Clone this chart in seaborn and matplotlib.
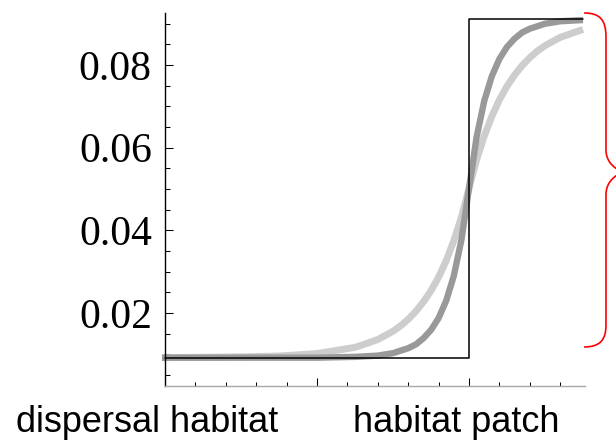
import matplotlib
matplotlib.use("Agg")
import matplotlib.pyplot as plt
from matplotlib.path import Path
from matplotlib.patches import PathPatch
from matplotlib.ticker import MultipleLocator, NullFormatter, FixedLocator
import seaborn as sns
import pandas as pd

# ---- data ----
x_step = [0.0, 2.0, 2.0, 2.75]
y_step = [0.0092, 0.0092, 0.0911, 0.0911]

x_light = [-0.02, 0.5, 0.75, 1.0, 1.25, 1.3, 1.4, 1.5, 1.55, 1.6, 1.65, 1.7, 1.75,
           1.8, 1.85, 1.9, 1.95, 2.0, 2.05, 2.1, 2.15, 2.2, 2.25, 2.3, 2.35, 2.4,
           2.45, 2.5, 2.6, 2.7, 2.75]
y_light = [0.0092, 0.0094, 0.0096, 0.0102, 0.0117, 0.0123, 0.0136, 0.0156, 0.0169,
           0.0185, 0.0204, 0.0227, 0.0254, 0.0287, 0.0327, 0.0375, 0.0432, 0.0502,
           0.0571, 0.0628, 0.0676, 0.0716, 0.0749, 0.0776, 0.0799, 0.0818, 0.0834,
           0.0847, 0.0867, 0.0880, 0.0886]

x_dark = [-0.02, 1.0, 1.25, 1.4, 1.5, 1.6, 1.65, 1.7, 1.75, 1.8, 1.85, 1.9, 1.95,
          2.0, 2.05, 2.1, 2.15, 2.2, 2.25, 2.3, 2.35, 2.4, 2.5, 2.6, 2.75]
y_dark = [0.0092, 0.0092, 0.0094, 0.0097, 0.0103, 0.0115, 0.0124, 0.0139, 0.0159,
          0.0188, 0.0230, 0.0290, 0.0377, 0.0502, 0.0626, 0.0713, 0.0773, 0.0815,
          0.0844, 0.0864, 0.0879, 0.0888, 0.0900, 0.0906, 0.0909]

y_ticks = [0.02, 0.04, 0.06, 0.08]
y_tick_labels = ["0.02", "0.04", "0.06", "0.08"]
x_labels = ["dispersal habitat", "habitat patch"]

sns.set_style("ticks")
plt.rcParams["font.family"] = ["Liberation Sans", "DejaVu Sans"]
plt.rcParams["text.color"] = "black"
plt.rcParams["xtick.color"] = "black"
plt.rcParams["ytick.color"] = "black"
plt.rcParams["xtick.labelcolor"] = "black"
plt.rcParams["ytick.labelcolor"] = "black"

fig = plt.figure(figsize=(6.16, 4.41), dpi=100)
W, H = 616, 441
ax = fig.add_axes([165 / W, (H - 386) / H, (585 - 165) / W, (386 - 13) / H])

df_light = pd.DataFrame({"x": x_light, "y": y_light})
df_dark = pd.DataFrame({"x": x_dark, "y": y_dark})
df_step = pd.DataFrame({"x": x_step, "y": y_step})

sns.lineplot(data=df_light, x="x", y="y", ax=ax, color="#cdcdcd", lw=5.0,
             sort=False, estimator=None, clip_on=False, solid_capstyle="butt",
             solid_joinstyle="round")
sns.lineplot(data=df_dark, x="x", y="y", ax=ax, color="#999999", lw=4.6,
             sort=False, estimator=None, clip_on=False, solid_capstyle="butt",
             solid_joinstyle="round")
sns.lineplot(data=df_step, x="x", y="y", ax=ax, color="black", lw=1.1,
             sort=False, estimator=None, clip_on=False)

ax.set_xlim(0, 2.763)
ax.set_ylim(0.00235, 0.0926)
ax.set_xlabel("")
ax.set_ylabel("")

for s in ["top", "right"]:
    ax.spines[s].set_visible(False)
ax.spines["left"].set_color("black")
ax.spines["left"].set_linewidth(1.0)
ax.spines["bottom"].set_color("#a8a8a8")
ax.spines["bottom"].set_linewidth(1.0)

ax.xaxis.set_major_locator(FixedLocator([0, 1, 2]))
ax.xaxis.set_minor_locator(MultipleLocator(0.2))
ax.xaxis.set_major_formatter(NullFormatter())
ax.yaxis.set_major_locator(FixedLocator(y_ticks))
ax.set_yticklabels(y_tick_labels)
ax.yaxis.set_minor_locator(MultipleLocator(0.005))

ax.tick_params(axis="x", which="major", direction="in", length=5.5, width=0.75, color="black")
ax.tick_params(axis="x", which="minor", direction="in", length=2.8, width=0.75, color="black")
ax.tick_params(axis="y", which="major", direction="in", length=6, width=0.75,
               color="black", pad=9.5, labelcolor="black")
ax.tick_params(axis="y", which="minor", direction="in", length=3.5, width=0.75, color="black")
for lab in ax.get_yticklabels():
    lab.set_fontfamily(["Liberation Serif", "DejaVu Serif"])
    lab.set_fontsize(30)
    lab.set_color("black")

# category labels under the axis
fig.text(147.5 / W, (H - 431.7) / H, x_labels[0], ha="center", va="baseline",
         fontsize=26, color="black", family=["Liberation Sans", "DejaVu Sans"])
fig.text(456 / W, (H - 431.7) / H, x_labels[1], ha="center", va="baseline",
         fontsize=26, color="black", family=["Liberation Sans", "DejaVu Sans"])

# red curly brace on the right (axes data coordinates)
verts = [(2.757, 0.0926), (2.862, 0.0926), (2.901, 0.0909), (2.901, 0.0868),
         (2.901, 0.0595),
         (2.901, 0.0570), (2.941, 0.0553), (3.008, 0.0541),
         (2.941, 0.0529), (2.901, 0.0512), (2.901, 0.0486),
         (2.901, 0.0171),
         (2.901, 0.0135), (2.862, 0.0118), (2.757, 0.0118)]
codes = [Path.MOVETO, Path.CURVE4, Path.CURVE4, Path.CURVE4,
         Path.LINETO,
         Path.CURVE4, Path.CURVE4, Path.CURVE4,
         Path.CURVE4, Path.CURVE4, Path.CURVE4,
         Path.LINETO,
         Path.CURVE4, Path.CURVE4, Path.CURVE4]
brace = PathPatch(Path(verts, codes), facecolor="none", edgecolor="#ff0000",
                  lw=1.2, clip_on=False, transform=ax.transData)
ax.add_patch(brace)

fig.savefig("out.png", dpi=100)
